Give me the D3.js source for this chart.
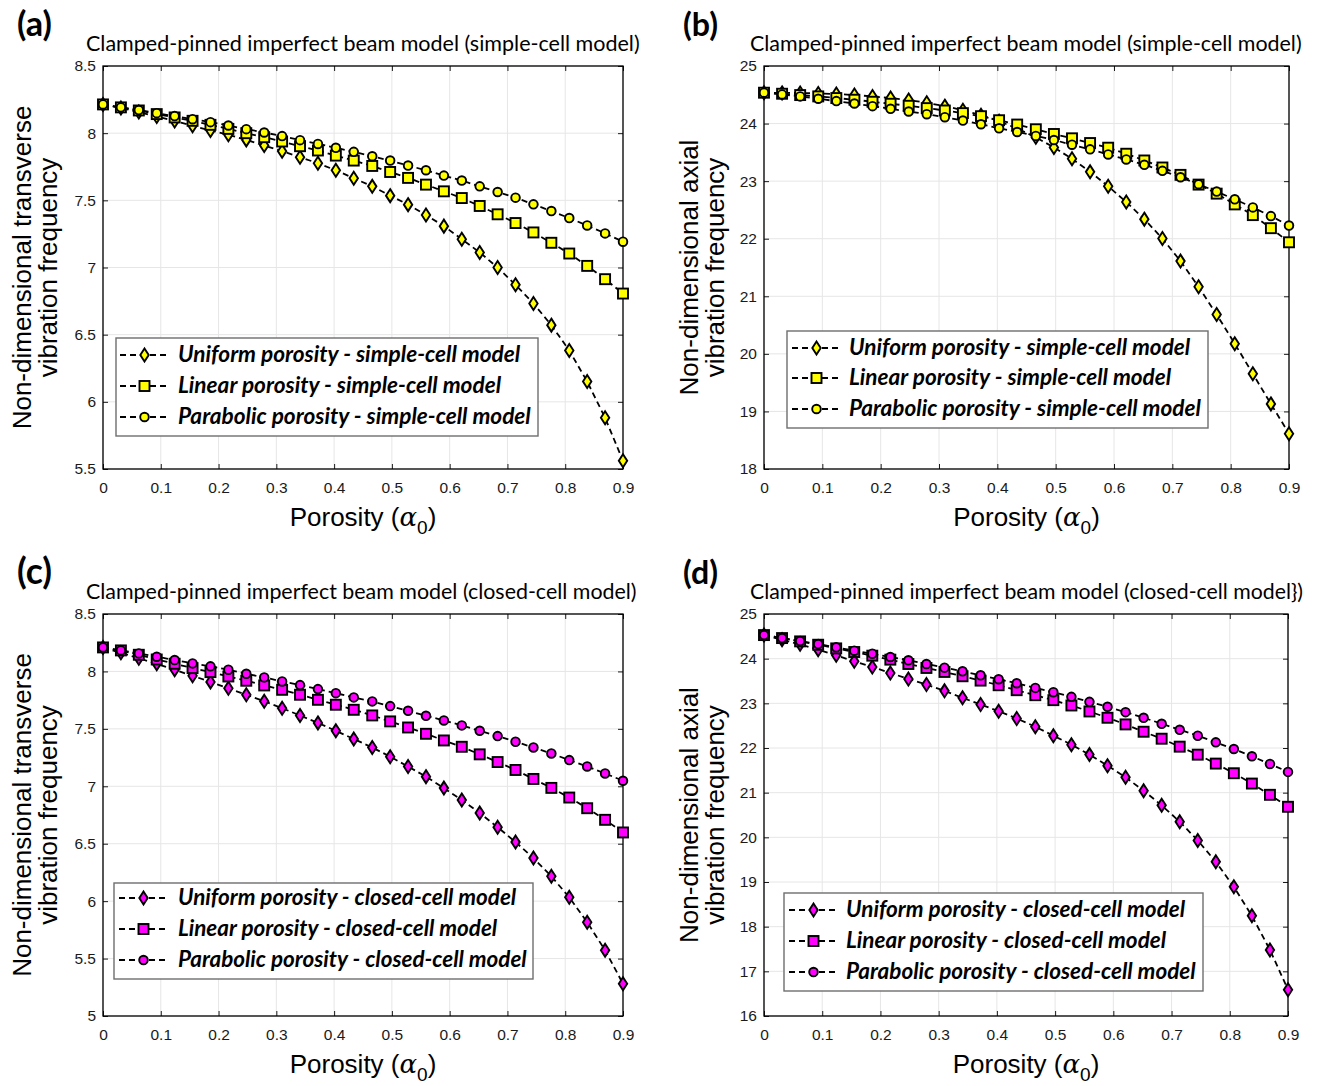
<!DOCTYPE html>
<html>
<head>
<meta charset="utf-8">
<script src="https://cdn.jsdelivr.net/npm/d3@7/dist/d3.min.js"></script>
<style>
  body { margin: 0; background: #fff; }
</style>
</head>
<body>
<svg id="fig" width="1317" height="1086"></svg>
<script>
// porosity values (x) shared by every series
const alpha = [0, 0.031, 0.062, 0.093, 0.124, 0.155, 0.186, 0.217, 0.248, 0.279,
  0.310, 0.341, 0.372, 0.403, 0.434, 0.466, 0.497, 0.528, 0.559, 0.590,
  0.621, 0.652, 0.683, 0.714, 0.745, 0.776, 0.807, 0.838, 0.869, 0.900];

// (a) transverse, simple-cell
const aUniform = [8.214, 8.187, 8.157, 8.124, 8.090, 8.055, 8.020, 7.988, 7.950, 7.908,
  7.866, 7.821, 7.776, 7.724, 7.664, 7.604, 7.535, 7.468, 7.391, 7.308,
  7.211, 7.112, 7.000, 6.871, 6.732, 6.571, 6.382, 6.151, 5.881, 5.561];
const aLinear = [8.214, 8.192, 8.169, 8.142, 8.117, 8.092, 8.062, 8.032, 8.000, 7.970,
  7.938, 7.903, 7.871, 7.833, 7.796, 7.756, 7.711, 7.667, 7.617, 7.567,
  7.517, 7.458, 7.396, 7.331, 7.261, 7.184, 7.104, 7.012, 6.913, 6.806];
const aParabolic = [8.214, 8.192, 8.172, 8.149, 8.127, 8.104, 8.082, 8.057, 8.030, 8.005,
  7.978, 7.948, 7.920, 7.891, 7.861, 7.828, 7.796, 7.759, 7.724, 7.684,
  7.647, 7.604, 7.562, 7.520, 7.470, 7.420, 7.368, 7.313, 7.254, 7.192];

// (b) axial, simple-cell
const bUniform = [24.536, 24.533, 24.530, 24.524, 24.513, 24.495, 24.472, 24.443, 24.408, 24.361,
  24.303, 24.233, 24.146, 24.041, 23.913, 23.761, 23.586, 23.388, 23.161, 22.911,
  22.637, 22.340, 22.002, 21.611, 21.164, 20.682, 20.177, 19.654, 19.131, 18.614];
const bLinear = [24.536, 24.518, 24.495, 24.472, 24.443, 24.414, 24.379, 24.344, 24.309, 24.268,
  24.227, 24.181, 24.128, 24.058, 23.983, 23.901, 23.819, 23.744, 23.662, 23.581,
  23.476, 23.359, 23.237, 23.109, 22.940, 22.783, 22.596, 22.410, 22.183, 21.938];
const bParabolic = [24.536, 24.507, 24.472, 24.431, 24.390, 24.349, 24.303, 24.256, 24.210, 24.163,
  24.111, 24.052, 23.988, 23.918, 23.854, 23.785, 23.715, 23.633, 23.552, 23.464,
  23.377, 23.284, 23.179, 23.068, 22.946, 22.818, 22.684, 22.544, 22.393, 22.229];

// (c) transverse, closed-cell
const cUniform = [8.209, 8.162, 8.115, 8.066, 8.014, 7.962, 7.909, 7.853, 7.797, 7.740,
  7.680, 7.617, 7.552, 7.483, 7.412, 7.338, 7.258, 7.172, 7.084, 6.984,
  6.881, 6.767, 6.644, 6.514, 6.375, 6.216, 6.033, 5.816, 5.573, 5.281];
const cLinear = [8.209, 8.183, 8.145, 8.104, 8.067, 8.029, 7.994, 7.956, 7.919, 7.878,
  7.840, 7.797, 7.753, 7.710, 7.666, 7.617, 7.565, 7.512, 7.457, 7.399,
  7.344, 7.278, 7.211, 7.142, 7.064, 6.986, 6.902, 6.809, 6.708, 6.598];
const cParabolic = [8.209, 8.183, 8.157, 8.128, 8.099, 8.070, 8.044, 8.015, 7.980, 7.948,
  7.913, 7.881, 7.846, 7.811, 7.774, 7.739, 7.698, 7.657, 7.614, 7.573,
  7.530, 7.483, 7.437, 7.388, 7.338, 7.286, 7.228, 7.173, 7.112, 7.048];

// (d) axial, closed-cell
const dUniform = [24.528, 24.424, 24.320, 24.201, 24.074, 23.941, 23.814, 23.680, 23.546, 23.420,
  23.279, 23.123, 22.974, 22.825, 22.662, 22.476, 22.275, 22.075, 21.852, 21.605,
  21.344, 21.045, 20.716, 20.350, 19.931, 19.453, 18.892, 18.242, 17.480, 16.590];
const dLinear = [24.528, 24.461, 24.387, 24.312, 24.230, 24.149, 24.067, 23.978, 23.881, 23.792,
  23.703, 23.606, 23.509, 23.405, 23.294, 23.182, 23.071, 22.952, 22.818, 22.677,
  22.528, 22.364, 22.208, 22.030, 21.851, 21.651, 21.435, 21.204, 20.952, 20.684];
const dParabolic = [24.528, 24.461, 24.394, 24.327, 24.253, 24.178, 24.112, 24.037, 23.963, 23.881,
  23.799, 23.717, 23.628, 23.539, 23.450, 23.346, 23.249, 23.145, 23.033, 22.922,
  22.803, 22.677, 22.543, 22.409, 22.275, 22.126, 21.978, 21.814, 21.643, 21.465];

const xTicks = [0, 0.1, 0.2, 0.3, 0.4, 0.5, 0.6, 0.7, 0.8, 0.9];
const yTicksA = [5.5, 6, 6.5, 7, 7.5, 8, 8.5];
const yTicksB = [18, 19, 20, 21, 22, 23, 24, 25];
const yTicksC = [5, 5.5, 6, 6.5, 7, 7.5, 8, 8.5];
const yTicksD = [16, 17, 18, 19, 20, 21, 22, 23, 24, 25];

const simpleNames = ["Uniform porosity - simple-cell model", "Linear porosity - simple-cell model",
  "Parabolic porosity - simple-cell model"];
const closedNames = ["Uniform porosity - closed-cell model", "Linear porosity - closed-cell model",
  "Parabolic porosity - closed-cell model"];
const shapes = ["diamond", "square", "circle"];

const panels = [
  { label: "(a)", title: "Clamped-pinned imperfect beam model (simple-cell model)",
    yLabel: ["Non-dimensional transverse", "vibration frequency"],
    series: [aUniform, aLinear, aParabolic], names: simpleNames, fill: "#ffff00",
    yDomain: [5.5, 8.5], yTicks: yTicksA },
  { label: "(b)", title: "Clamped-pinned imperfect beam model (simple-cell model)",
    yLabel: ["Non-dimensional axial", "vibration frequency"],
    series: [bUniform, bLinear, bParabolic], names: simpleNames, fill: "#ffff00",
    yDomain: [18, 25], yTicks: yTicksB },
  { label: "(c)", title: "Clamped-pinned imperfect beam model (closed-cell model)",
    yLabel: ["Non-dimensional transverse", "vibration frequency"],
    series: [cUniform, cLinear, cParabolic], names: closedNames, fill: "#ff00ff",
    yDomain: [5, 8.5], yTicks: yTicksC },
  { label: "(d)", title: "Clamped-pinned imperfect beam model (closed-cell model})",
    yLabel: ["Non-dimensional axial", "vibration frequency"],
    series: [dUniform, dLinear, dParabolic], names: closedNames, fill: "#ff00ff",
    yDomain: [16, 25], yTicks: yTicksD }
];

// where each panel sits on the page
const layout = [
  { x: 103, y: 66, w: 520, h: 403, titleX: 86, titleW: 554, titleY: 51, labelX: 17, labelY: 36,
    yLabX: [22, 48], xLabY: 526,
    legend: { x: 116, y: 338, w: 422, h: 98, rows: [355, 386, 417], lineX: [120, 169], textX: 178, textW: 353 } },
  { x: 764, y: 66, w: 525, h: 403, titleX: 750, titleW: 552, titleY: 51, labelX: 683, labelY: 36,
    yLabX: [689, 715], xLabY: 526,
    legend: { x: 787, y: 331, w: 421, h: 97, rows: [348, 378, 409], lineX: [792, 841], textX: 849, textW: 352 } },
  { x: 103, y: 614, w: 520, h: 402, titleX: 86, titleW: 551, titleY: 599, labelX: 17, labelY: 584,
    yLabX: [22, 48], xLabY: 1073,
    legend: { x: 114, y: 883, w: 419, h: 96, rows: [898, 929, 960], lineX: [119, 168], textX: 178, textW: 349 } },
  { x: 764, y: 614, w: 524, h: 402, titleX: 750, titleW: 553, titleY: 599, labelX: 683, labelY: 584,
    yLabX: [689, 715], xLabY: 1073,
    legend: { x: 784, y: 893, w: 419, h: 98, rows: [910, 941, 972], lineX: [789, 838], textX: 846, textW: 350 } }
];

const svg = d3.select("#fig");
const sans = "'Liberation Sans', Arial, sans-serif";
const calibri = "Lato, 'Open Sans', sans-serif";

function fitWidth(t, width) {
  const w = t.node().getComputedTextLength();
  t.attr("font-size", parseFloat(t.attr("font-size")) * width / w);
}

function drawMarker(g, shape, cx, cy) {
  if (shape === "circle") {
    g.append("circle").attr("cx", cx).attr("cy", cy).attr("r", 4.3);
  } else if (shape === "square") {
    g.append("rect").attr("x", cx - 5).attr("y", cy - 5).attr("width", 10).attr("height", 10);
  } else {
    g.append("path").attr("d", `M${cx},${cy - 6.5}L${cx + 4.2},${cy}L${cx},${cy + 6.5}L${cx - 4.2},${cy}Z`);
  }
}

panels.forEach((p, i) => {
  const L = layout[i];
  const x = d3.scaleLinear().domain([0, 0.9]).range([L.x, L.x + L.w]);
  const y = d3.scaleLinear().domain(p.yDomain).range([L.y + L.h, L.y]);
  const g = svg.append("g");

  // grid
  g.append("g").selectAll("line").data(xTicks).join("line")
    .attr("x1", d => x(d)).attr("x2", d => x(d)).attr("y1", L.y).attr("y2", L.y + L.h)
    .attr("stroke", "#e6e6e6").attr("stroke-width", 1);
  g.append("g").selectAll("line").data(p.yTicks).join("line")
    .attr("y1", d => y(d)).attr("y2", d => y(d)).attr("x1", L.x).attr("x2", L.x + L.w)
    .attr("stroke", "#e6e6e6").attr("stroke-width", 1);

  // axes with inward ticks on all four sides
  const fmt = d => String(d);
  const styleAxis = a => {
    a.select(".domain").remove();
    a.selectAll(".tick line").attr("stroke", "#1a1a1a").attr("stroke-width", 1);
    a.selectAll(".tick text").attr("font-family", sans).attr("font-size", 15.5).attr("fill", "#1a1a1a");
  };
  g.append("g").attr("transform", `translate(0,${L.y + L.h})`)
    .call(d3.axisBottom(x).tickValues(xTicks).tickFormat(fmt).tickSize(-5).tickPadding(13))
    .call(styleAxis);
  g.append("g").attr("transform", `translate(0,${L.y})`)
    .call(d3.axisTop(x).tickValues(xTicks).tickFormat("").tickSize(-5))
    .call(styleAxis);
  g.append("g").attr("transform", `translate(${L.x},0)`)
    .call(d3.axisLeft(y).tickValues(p.yTicks).tickFormat(fmt).tickSize(-5).tickPadding(7))
    .call(styleAxis);
  g.append("g").attr("transform", `translate(${L.x + L.w},0)`)
    .call(d3.axisRight(y).tickValues(p.yTicks).tickFormat("").tickSize(-5))
    .call(styleAxis);

  g.append("rect").attr("x", L.x).attr("y", L.y).attr("width", L.w).attr("height", L.h)
    .attr("fill", "none").attr("stroke", "#000").attr("stroke-width", 1.3);

  // series: dashed line, then markers
  const line = d3.line().x((d, k) => x(alpha[k])).y(d => y(d));
  p.series.forEach((vals, s) => {
    g.append("path").attr("d", line(vals)).attr("fill", "none")
      .attr("stroke", "#000").attr("stroke-width", 1.8).attr("stroke-dasharray", "6,4");
    const mg = g.append("g").attr("fill", p.fill).attr("stroke", "#000").attr("stroke-width", 1.9);
    vals.forEach((v, k) => drawMarker(mg, shapes[s], x(alpha[k]), y(v)));
  });

  // legend
  const lg = L.legend;
  g.append("rect").attr("x", lg.x).attr("y", lg.y).attr("width", lg.w).attr("height", lg.h)
    .attr("fill", "#fff").attr("stroke", "#6e6e6e").attr("stroke-width", 1.4);
  const texts = [];
  p.names.forEach((name, s) => {
    const ry = lg.rows[s];
    g.append("line").attr("x1", lg.lineX[0]).attr("x2", lg.lineX[1]).attr("y1", ry).attr("y2", ry)
      .attr("stroke", "#000").attr("stroke-width", 1.8).attr("stroke-dasharray", "6,4");
    const mg = g.append("g").attr("fill", p.fill).attr("stroke", "#000").attr("stroke-width", 1.9);
    drawMarker(mg, shapes[s], (lg.lineX[0] + lg.lineX[1]) / 2, ry);
    texts.push(g.append("text").attr("x", lg.textX).attr("y", ry + 7)
      .attr("font-family", calibri).attr("font-weight", "bold").attr("font-style", "italic")
      .attr("font-size", 19).attr("fill", "#000").text(name));
  });
  fitWidth(texts[2], lg.textW);
  texts.forEach(t => t.attr("font-size", texts[2].attr("font-size")));

  // title and panel letter
  const title = svg.append("text").attr("x", L.titleX).attr("y", L.titleY)
    .attr("font-family", calibri).attr("font-size", 17).attr("fill", "#000").text(p.title);
  fitWidth(title, L.titleW);
  const letter = svg.append("text").attr("x", L.labelX).attr("y", L.labelY)
    .attr("font-family", calibri).attr("font-weight", "bold").attr("font-size", 28)
    .attr("fill", "#000").text(p.label);
  fitWidth(letter, 35);

  // axis labels
  p.yLabel.forEach((txt, k) => {
    svg.append("text")
      .attr("transform", `translate(${L.yLabX[k]},${L.y + L.h / 2}) rotate(-90)`)
      .attr("text-anchor", "middle").attr("dominant-baseline", "central")
      .attr("font-family", sans).attr("font-size", 26).attr("fill", "#000").text(txt);
  });
  const xl = svg.append("text").attr("x", L.x + L.w / 2).attr("y", L.xLabY)
    .attr("text-anchor", "middle").attr("font-family", sans).attr("font-size", 26).attr("fill", "#000");
  xl.append("tspan").text("Porosity (");
  xl.append("tspan").attr("font-family", "'DejaVu Serif', serif").attr("font-style", "italic").text("α");
  xl.append("tspan").attr("font-size", 19).attr("dy", 8).text("0");
  xl.append("tspan").attr("dy", -8).text(")");
});
</script>
</body>
</html>
